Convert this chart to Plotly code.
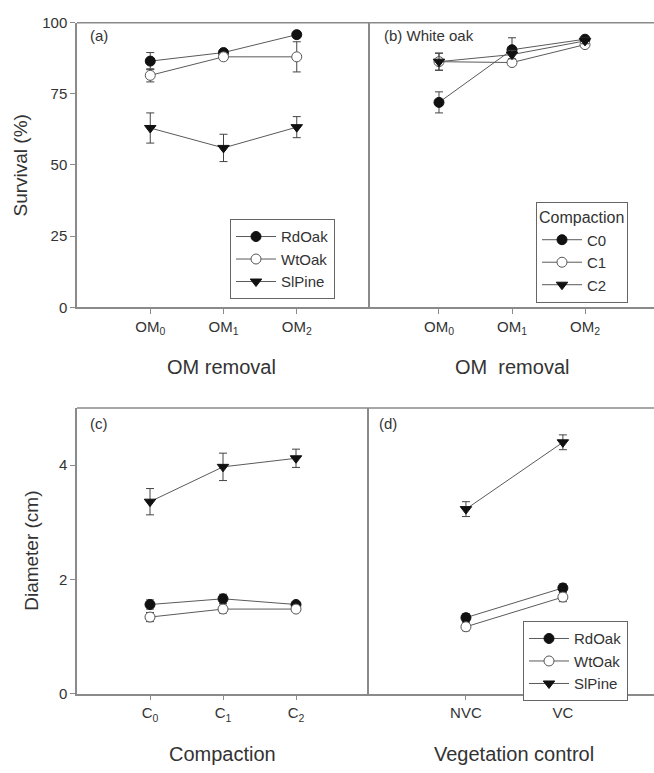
import plotly.graph_objects as go

# ---------------- data ----------------
om_labels = ["OM<sub>0</sub>", "OM<sub>1</sub>", "OM<sub>2</sub>"]
c_labels = ["C<sub>0</sub>", "C<sub>1</sub>", "C<sub>2</sub>"]
vc_labels = ["NVC", "VC"]

# (a) survival by OM removal
a_rdoak = [86.5, 89.5, 95.8]
a_rdoak_err = [3.0, 1.0, 0.8]
a_wtoak = [81.5, 88.0, 88.0]
a_wtoak_err = [2.3, 1.0, 5.3]
a_slpine = [63.0, 56.0, 63.3]
a_slpine_err = [5.3, 4.8, 3.7]

# (b) white oak survival by OM removal, by compaction
b_c0 = [72.0, 90.5, 94.2]
b_c0_err = [3.7, 4.2, 1.0]
b_c1 = [86.3, 86.0, 92.3]
b_c1_err = [3.0, 1.0, 1.0]
b_c2 = [86.3, 88.8, 93.6]
b_c2_err = [3.0, 1.5, 1.0]

# (c) diameter by compaction
c_rdoak = [1.56, 1.66, 1.56]
c_rdoak_err = [0.08, 0.08, 0.04]
c_wtoak = [1.34, 1.48, 1.48]
c_wtoak_err = [0.08, 0.07, 0.04]
c_slpine = [3.36, 3.97, 4.12]
c_slpine_err = [0.23, 0.24, 0.16]

# (d) diameter by vegetation control
d_rdoak = [1.33, 1.85]
d_rdoak_err = [0.07, 0.07]
d_wtoak = [1.17, 1.69]
d_wtoak_err = [0.07, 0.08]
d_slpine = [3.23, 4.40]
d_slpine_err = [0.13, 0.13]

# ---------------- styling ----------------
W, H = 654, 773
LINE = "#5a5a5a"
AX = "#8a8a8a"
TXT = "#333333"
FONT = "Liberation Sans, Arial, sans-serif"


def px_x(p):
    return p / W


def px_y(p):
    return (H - p) / H


styles = {
    "filled": dict(symbol="circle", size=10, color="#111111", line=dict(color="#111111", width=1)),
    "open": dict(symbol="circle", size=10, color="white", line=dict(color="#555555", width=1)),
    "tri": dict(symbol="triangle-down", size=10, color="#111111", line=dict(color="#111111", width=1)),
}

fig = go.Figure()


def add(name, y, err, style, xa, ya, legend, showlegend=True):
    xs = list(range(len(y)))
    fig.add_trace(go.Scatter(
        x=xs, y=y, name=name, mode="lines+markers",
        line=dict(color=LINE, width=1),
        marker=styles[style],
        error_y=dict(type="data", array=err, visible=True, color="#444444", thickness=1, width=4),
        xaxis=xa, yaxis=ya, legend=legend, showlegend=showlegend,
    ))


add("RdOak", a_rdoak, a_rdoak_err, "filled", "x", "y", "legend")
add("WtOak", a_wtoak, a_wtoak_err, "open", "x", "y", "legend")
add("SlPine", a_slpine, a_slpine_err, "tri", "x", "y", "legend")

add("C0", b_c0, b_c0_err, "filled", "x2", "y2", "legend2")
add("C1", b_c1, b_c1_err, "open", "x2", "y2", "legend2")
add("C2", b_c2, b_c2_err, "tri", "x2", "y2", "legend2")

add("RdOak", c_rdoak, c_rdoak_err, "filled", "x3", "y3", "legend", showlegend=False)
add("WtOak", c_wtoak, c_wtoak_err, "open", "x3", "y3", "legend", showlegend=False)
add("SlPine", c_slpine, c_slpine_err, "tri", "x3", "y3", "legend", showlegend=False)

add("RdOak", d_rdoak, d_rdoak_err, "filled", "x4", "y4", "legend3")
add("WtOak", d_wtoak, d_wtoak_err, "open", "x4", "y4", "legend3")
add("SlPine", d_slpine, d_slpine_err, "tri", "x4", "y4", "legend3")

tickfont = dict(family=FONT, size=15, color=TXT)


def xaxis(domain, rng, labels, anchor):
    return dict(domain=domain, range=rng, anchor=anchor,
                tickvals=list(range(len(labels))), ticktext=labels,
                showline=True, linecolor=AX, linewidth=1.5, ticks="outside",
                ticklen=5, tickcolor=AX, showgrid=False, zeroline=False,
                tickfont=tickfont, fixedrange=True)


def yaxis(domain, rng, tickvals, anchor, show_labels=True):
    return dict(domain=domain, range=rng, anchor=anchor,
                tickvals=tickvals if show_labels else [],
                showline=True, linecolor=AX, linewidth=1.5,
                ticks="outside" if show_labels else "", ticklen=5, tickcolor=AX,
                showgrid=False, zeroline=False, showticklabels=show_labels,
                ticklabeloverflow="allow",
                tickfont=tickfont, fixedrange=True)


top_dom = [px_y(305), px_y(14)]
bot_dom = [px_y(700), px_y(408)]
legfont = dict(family=FONT, size=15, color=TXT)

fig.update_layout(
    autosize=True,
    margin=dict(l=0, r=0, t=0, b=0),
    paper_bgcolor="white", plot_bgcolor="white",
    font=dict(family=FONT, color=TXT),
    xaxis=xaxis([px_x(77), px_x(370)], [-1, 3], om_labels, "y"),
    yaxis=yaxis(top_dom, [0, 100], [0, 25, 50, 75, 100], "x"),
    xaxis2=xaxis([px_x(370), 1], [-0.945, 2.945], om_labels, "y2"),
    yaxis2=yaxis(top_dom, [0, 100], [], "x2", show_labels=False),
    xaxis3=xaxis([px_x(77), px_x(369)], [-1, 3], c_labels, "y3"),
    yaxis3=yaxis(bot_dom, [0, 5], [0, 2, 4], "x3"),
    xaxis4=xaxis([px_x(369), 1], [-1, 1.94], vc_labels, "y4"),
    yaxis4=yaxis(bot_dom, [0, 5], [], "x4", show_labels=False),
    legend=dict(x=px_x(230), y=px_y(215), xanchor="left", yanchor="top",
                bgcolor="white", bordercolor="#666666", borderwidth=1,
                font=legfont, tracegroupgap=0, itemwidth=40),
    legend2=dict(x=px_x(536), y=px_y(197), xanchor="left", yanchor="top",
                 bgcolor="white", bordercolor="#666666", borderwidth=1,
                 title=dict(text="Compaction", font=dict(family=FONT, size=16, color=TXT)),
                 font=legfont, itemwidth=40),
    legend3=dict(x=px_x(523), y=px_y(626), xanchor="left", yanchor="top",
                 bgcolor="white", bordercolor="#666666", borderwidth=1,
                 font=legfont, itemwidth=40),
)

# top frame lines of each row
for ytop in (14, 408):
    fig.add_shape(type="line", xref="paper", yref="paper",
                  x0=px_x(77), x1=1, y0=px_y(ytop), y1=px_y(ytop),
                  line=dict(color=AX, width=1.5))

ann_font = dict(family=FONT, size=15, color=TXT)
xt_font = dict(family=FONT, size=20, color=TXT)
yt_font = dict(family=FONT, size=19, color=TXT)
annotations = [
    dict(text="(a)", x=px_x(88), y=px_y(27), xanchor="left", yanchor="middle", font=ann_font),
    dict(text="(b) White oak", x=px_x(382), y=px_y(27), xanchor="left", yanchor="middle", font=ann_font),
    dict(text="(c)", x=px_x(88), y=px_y(424), xanchor="left", yanchor="middle", font=ann_font),
    dict(text="(d)", x=px_x(377), y=px_y(424), xanchor="left", yanchor="middle", font=ann_font),
    dict(text="OM removal", x=px_x(221), y=px_y(366), xanchor="center", yanchor="middle", font=xt_font),
    dict(text="OM  removal", x=px_x(512), y=px_y(366), xanchor="center", yanchor="middle", font=xt_font),
    dict(text="Compaction", x=px_x(223), y=px_y(762), xanchor="center", yanchor="middle", font=xt_font),
    dict(text="Vegetation control", x=px_x(514), y=px_y(762), xanchor="center", yanchor="middle", font=xt_font),
    dict(text="Survival (%)", x=px_x(20), y=px_y(160), xanchor="center", yanchor="middle", textangle=-90, font=yt_font),
    dict(text="Diameter (cm)", x=px_x(32), y=px_y(554), xanchor="center", yanchor="middle", textangle=-90, font=yt_font),
]
for a in annotations:
    a.update(xref="paper", yref="paper", showarrow=False)
fig.update_layout(annotations=annotations)

fig.write_html(
    "out.html",
    config={"displayModeBar": False, "responsive": True},
    default_width="100vw",
    default_height="100vh",
    post_script=(
        "document.documentElement.style.margin='0px';"
        "document.body.style.margin='0px';"
        "document.body.style.overflow='hidden';"
        "Plotly.Plots.resize(document.getElementById('{plot_id}'));"
    ),
)
